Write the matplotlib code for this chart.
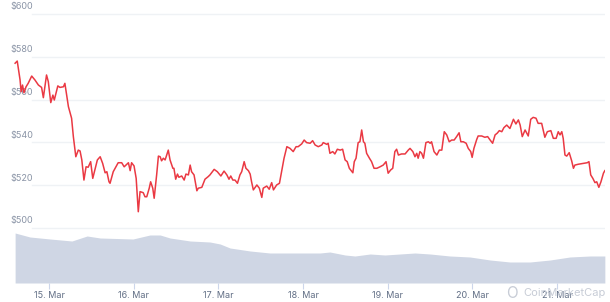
import matplotlib.pyplot as plt

# hours since 15 Mar 00:00
hours = [-9.6, -9.0, -8.2, -7.9, -7.5, -7.1, -6.5, -5.9, -4.9, -4.0, -3.0, -2.1, -1.6, -0.7, -0.2,
         0.5, 1.1, 1.5, 2.5, 3.1, 4.1, 4.5, 5.0, 5.5, 6.4, 6.9, 7.6, 8.3, 8.8, 9.3, 9.9, 10.5, 11.1,
         11.8, 12.4, 13.0, 13.7, 14.5, 15.2, 15.9, 16.4, 17.0, 17.3, 18.2, 19.6, 20.6, 21.3, 21.8,
         22.5, 23.0, 23.4, 24.1, 24.7, 25.3, 25.8, 26.7, 27.2, 27.7, 28.4, 28.8, 29.4, 29.8, 30.5,
         31.0, 31.5, 31.9, 32.4, 32.9, 33.8, 34.3, 35.1, 35.4, 35.9, 36.4, 36.8, 37.6, 38.3, 38.8,
         39.5, 40.0, 40.4, 41.1, 41.9, 42.3, 43.3, 44.2, 45.1, 45.6, 46.8, 47.7, 48.7, 49.6, 50.4,
         51.0, 51.5, 52.1, 52.7, 53.4, 54.1, 54.6, 55.3, 55.8, 56.5, 57.0, 57.4, 57.9, 58.9, 59.6,
         60.3, 60.7, 61.7, 62.4, 63.1, 63.6, 64.5, 65.3, 65.9, 66.6, 67.4, 68.3, 69.2, 70.0, 70.6,
         71.6, 72.3, 73.0, 74.0, 74.7, 75.4, 76.3, 77.3, 77.7, 78.7, 79.1, 79.6, 80.4, 81.0, 81.7,
         82.5, 83.2, 83.9, 84.5, 85.1, 86.1, 86.5, 87.0, 87.6, 88.1, 88.6, 89.1, 89.5, 90.0, 90.8,
         91.4, 92.1, 92.9, 93.8, 94.7, 95.5, 96.1, 96.8, 97.4, 98.0, 98.5, 99.0, 99.9, 100.9, 101.8,
         102.3, 103.1, 103.7, 104.2, 104.6, 105.1, 105.6, 106.1, 106.8, 107.5, 108.0, 108.4, 109.1,
         109.9, 110.6, 111.3, 112.0, 112.7, 113.4, 114.1, 114.8, 115.5, 116.2, 116.7, 117.4, 118.2,
         118.8, 119.5, 119.9, 120.4, 121.2, 121.6, 122.6, 123.5, 124.3, 125.0, 125.7, 126.4, 127.0,
         127.6, 128.3, 128.9, 129.7, 130.6, 131.6, 132.3, 133.0, 133.5, 134.1, 134.9, 135.8, 136.5,
         137.2, 138.0, 138.6, 139.6, 140.5, 141.2, 142.2, 142.9, 143.7, 144.3, 144.8, 145.3, 145.7,
         146.2, 146.7, 147.4, 148.1, 148.6, 149.0, 150.0, 151.4, 152.5, 153.0, 153.5, 154.1, 154.7,
         155.2, 155.8, 156.4, 157.1, 157.5]
price = [577.0, 578.0, 569.2, 563.7, 566.8, 563.2, 566.0, 567.6, 571.0, 569.2, 566.8, 565.7, 560.9, 571.5, 568.4,
         558.6, 562.1, 559.8, 566.4, 565.7, 566.0, 567.6, 562.1, 556.7, 551.3, 542.7, 533.3, 536.4, 536.0, 531.8, 522.4, 528.6, 528.4,
         531.0, 523.2, 527.1, 531.8, 533.3, 530.2, 525.8, 526.3, 521.6, 520.9, 526.3, 530.5, 530.5, 528.6, 529.4,
         530.5, 526.8, 530.5, 529.0, 523.2, 507.6, 517.0, 516.5, 514.6, 514.6, 518.6, 521.6, 518.6, 513.9, 524.8,
         533.6, 533.3, 531.4, 532.6, 531.8, 536.4, 531.8, 527.9, 527.9, 522.8, 525.2, 523.7, 524.3, 522.4, 525.2,
         524.8, 529.4, 526.3, 524.8, 517.4, 518.6, 519.0, 522.8, 524.0, 524.8, 527.4, 526.3, 524.3, 526.6, 524.8,
         522.8, 524.3, 522.4, 522.4, 520.9, 524.8, 526.3, 531.0, 527.9, 526.8, 525.2, 521.6, 517.8, 520.1, 518.6,
         514.3, 518.6, 519.6, 518.1, 521.2, 517.8, 520.1, 520.9, 526.3, 532.6, 538.0, 537.2, 535.7, 538.0, 538.0,
         539.3, 541.1, 539.9, 539.6, 540.8, 538.8, 538.0, 538.8, 539.9, 539.1, 539.6, 534.9, 535.7, 534.6, 536.8,
         536.4, 536.8, 531.8, 531.0, 527.9, 525.8, 531.0, 532.6, 539.9, 540.3, 545.8, 540.3, 539.6, 534.9, 532.6,
         531.0, 527.9, 527.9, 528.6, 529.4, 531.0, 525.6, 527.1, 527.9, 535.7, 536.8, 534.1, 534.6, 534.6, 536.4,
         537.2, 535.7, 533.3, 534.9, 532.6, 535.7, 534.9, 532.6, 539.9, 540.3, 539.6, 540.3, 535.7,
         534.1, 536.4, 536.4, 545.0, 543.5, 540.3, 541.1, 541.1, 542.7, 544.5, 540.3, 540.3, 539.6,
         537.2, 535.7, 533.0, 537.2, 541.4, 543.0, 543.0, 542.4, 542.7, 541.1, 539.6, 543.5, 544.3,
         545.5, 545.0, 546.9, 548.1, 546.5, 550.8, 548.6, 550.5, 548.1, 542.7, 545.8, 543.0, 550.8,
         551.7, 551.3, 548.9, 548.9, 542.4, 545.0, 545.5, 541.9, 541.9, 545.0, 543.5, 545.0, 541.9,
         534.1, 533.6, 535.2, 531.4, 527.9, 529.4, 529.8, 530.2, 530.5, 531.0, 524.8, 523.2, 521.2,
         521.6, 519.0, 521.6, 525.6, 526.8]

vol_hours = [-9.6, -5.4, 0.3, 6.5, 10.8, 14.5, 23.8, 28.6, 31.5, 34.3, 40.0, 45.6, 48.5, 51.3, 57.0,
             62.6, 76.8, 79.6, 83.9, 86.7, 91.0, 95.2, 103.7, 108.0, 113.6, 119.3, 125.0, 130.6,
             136.3, 142.0, 147.6, 153.3, 157.5]
volume = [1000, 920, 880, 840, 940, 900, 880, 960, 960, 900, 840, 820, 780, 700, 640,
          600, 600, 620, 560, 540, 580, 560, 600, 580, 540, 520, 460, 420,
          420, 460, 520, 540, 540]

day_labels = ['15. Mar', '16. Mar', '17. Mar', '18. Mar', '19. Mar', '20. Mar', '21. Mar']
price_levels = [500, 520, 540, 560, 580, 600]

plt.rcParams['font.family'] = ['Inter', 'DejaVu Sans']
W, H = 610, 302
fig = plt.figure(figsize=(W / 100, H / 100), dpi=100)

x_left = -49 / 84.7 * 24
x_right = (605 - 49) / 84.7 * 24

ax = fig.add_axes([0, (H - 283) / H, 605 / W, (283 - 10) / H])
ax.set_xlim(x_left, x_right)
ax.set_ylim(600 - (283 - 14) / 2.14, 600 + 4 / 2.14)
for lvl in price_levels:
    ax.axhline(lvl, xmin=32 / 605, xmax=1, color='#eff2f5', lw=1, zorder=0)
    ax.text(10 / 605, lvl + 1.2, '$' + str(lvl), transform=ax.get_yaxis_transform(),
            fontsize=6.5, color='#8a94a6', va='bottom', ha='left')
ax.plot(hours, price, color='#ea3943', lw=1.1, zorder=3)
ax.axis('off')

axv = fig.add_axes([0, (H - 283) / H, 605 / W, 50 / H])
axv.set_xlim(x_left, x_right)
axv.set_ylim(0, 1000)
axv.fill_between(vol_hours, volume, 0, color='#cfd6e4', lw=0)
axv.set_facecolor('none')
for s in axv.spines.values():
    s.set_visible(False)
axv.set_yticks([])
axv.set_xticks([24 * i for i in range(len(day_labels))])
axv.set_xticklabels(day_labels)
axv.tick_params(axis='x', length=4, width=0.8, color='#ccd6eb', labelsize=6.5,
                labelcolor='#616e85', pad=2)

# watermark
fig.text(506 / W, 1 - 293 / H, 'O', fontsize=11, color='#c7ccd6', va='center', ha='left')
fig.text(523 / W, 1 - 293 / H, 'CoinMarketCap', fontsize=8, color='#c7ccd6',
         va='center', ha='left', zorder=1)

fig.savefig('out.png', dpi=100)
